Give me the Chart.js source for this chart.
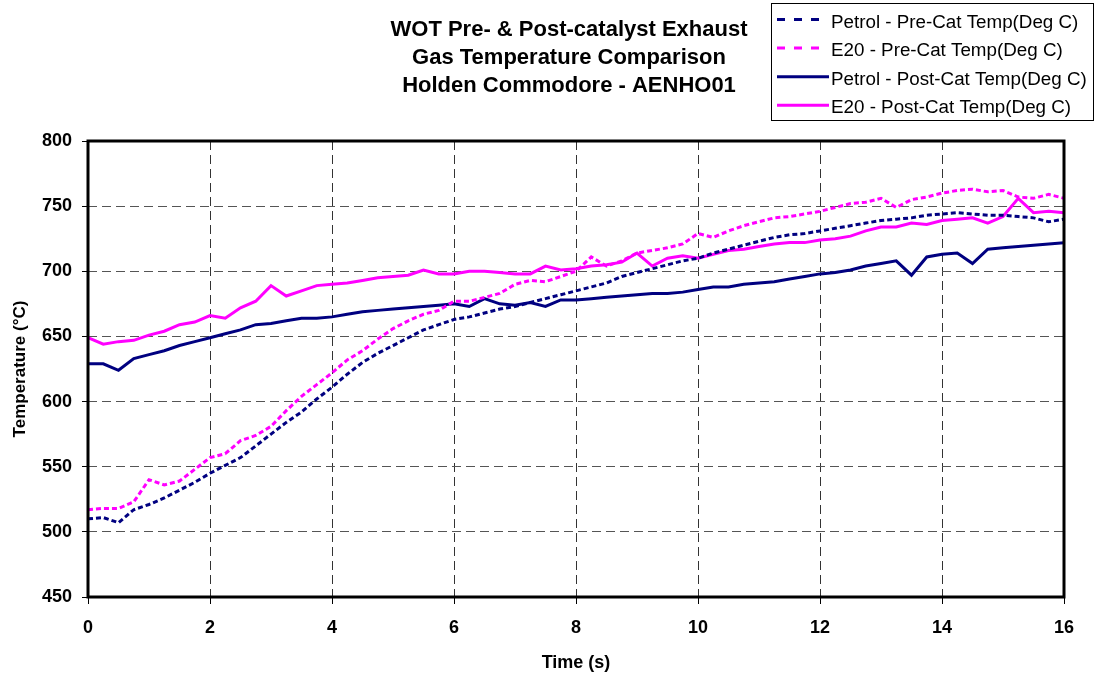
<!DOCTYPE html>
<html>
<head>
<meta charset="utf-8">
<script src="https://cdn.jsdelivr.net/npm/chart.js@4.4.0/dist/chart.umd.min.js"></script>
<style>
  body { margin: 0; background: #fff; }
  #wrap { width: 1099px; height: 678px; }
</style>
</head>
<body>
<div id="wrap"><canvas id="tempChart" width="1099" height="678"></canvas></div>
<script>
const titleLines = ['WOT Pre- & Post-catalyst Exhaust', 'Gas Temperature Comparison', 'Holden Commodore - AENHO01'];
const seriesNames = ['Petrol - Pre-Cat Temp(Deg C)', 'E20 - Pre-Cat Temp(Deg C)', 'Petrol - Post-Cat Temp(Deg C)', 'E20 - Post-Cat Temp(Deg C)'];
const xTicks = [0, 2, 4, 6, 8, 10, 12, 14, 16];
const yTicks = [450, 500, 550, 600, 650, 700, 750, 800];

const timeS = [0, 0.25, 0.5, 0.75, 1, 1.25, 1.5, 1.75, 2, 2.25,
  2.5, 2.75, 3, 3.25, 3.5, 3.75, 4, 4.25, 4.5, 4.75,
  5, 5.25, 5.5, 5.75, 6, 6.25, 6.5, 6.75, 7, 7.25,
  7.5, 7.75, 8, 8.25, 8.5, 8.75, 9, 9.25, 9.5, 9.75,
  10, 10.25, 10.5, 10.75, 11, 11.25, 11.5, 11.75, 12, 12.25,
  12.5, 12.75, 13, 13.25, 13.5, 13.75, 14, 14.25, 14.5, 14.75,
  15, 15.25, 15.5, 15.75, 16];

const petrolPre = [510, 511, 507, 517, 521, 526, 532, 538, 545, 551,
  557, 566, 575, 584, 592, 602, 611, 621, 630, 637,
  643, 649, 655, 659, 663, 665, 668, 671, 673, 676,
  679, 682, 685, 688, 691, 696, 699, 702, 705, 708,
  710, 714, 717, 720, 723, 726, 728, 729, 731, 733,
  735, 737, 739, 740, 741, 743, 744, 745, 744, 743,
  743, 742, 741, 738, 740];

const e20Pre = [517, 518, 518, 523, 540, 536, 539, 548, 557, 560,
  570, 574, 581, 593, 604, 613, 622, 632, 639, 648,
  656, 662, 667, 670, 677, 677, 680, 683, 690, 693,
  692, 696, 700, 711, 704, 708, 714, 716, 718, 721,
  729, 726, 731, 735, 738, 741, 742, 744, 746, 749,
  752, 753, 756, 749, 755, 757, 760, 762, 763, 761,
  762, 757, 756, 759, 756];

const petrolPost = [629, 629, 624, 633, 636, 639, 643, 646, 649, 652,
  655, 659, 660, 662, 664, 664, 665, 667, 669, 670,
  671, 672, 673, 674, 675, 673, 679, 675, 674, 676,
  673, 678, 678, 679, 680, 681, 682, 683, 683, 684,
  686, 688, 688, 690, 691, 692, 694, 696, 698, 699,
  701, 704, 706, 708, 697, 711, 713, 714, 706, 717,
  718, 719, 720, 721, 722];

const e20Post = [649, 644, 646, 647, 651, 654, 659, 661, 666, 664,
  672, 677, 689, 681, 685, 689, 690, 691, 693, 695,
  696, 697, 701, 698, 698, 700, 700, 699, 698, 698,
  704, 701, 702, 704, 705, 707, 714, 704, 710, 712,
  710, 713, 716, 717, 719, 721, 722, 722, 724, 725,
  727, 731, 734, 734, 737, 736, 739, 740, 741, 737,
  742, 756, 745, 746, 745];

const NAVY = '#000080';
const PINK = '#ff00ff';
const FONT = '"Liberation Sans", Arial, sans-serif';

function pts(vals) {
  return vals.map((v, i) => ({ x: timeS[i], y: v }));
}

const overlay = {
  id: 'overlay',
  afterDraw(chart) {
    const { ctx, chartArea: a } = chart;
    ctx.save();
    // frame round the plot
    ctx.strokeStyle = '#000';
    ctx.lineWidth = 3;
    ctx.strokeRect(a.left, a.top, a.right - a.left, a.bottom - a.top);

    // title
    ctx.fillStyle = '#000';
    ctx.font = 'bold 22px ' + FONT;
    ctx.textAlign = 'center';
    ctx.textBaseline = 'alphabetic';
    titleLines.forEach((s, i) => ctx.fillText(s, 569, 36 + i * 27.8));

    // legend
    ctx.lineWidth = 1;
    ctx.strokeRect(771.5, 3.5, 322, 117);
    ctx.font = '18.8px ' + FONT;
    ctx.textAlign = 'left';
    chart.data.datasets.forEach((ds, i) => {
      const base = 27.5 + i * 28.6;
      const ly = base - 8;
      const dotted = ds.borderDash && ds.borderDash.length;
      ctx.strokeStyle = ds.borderColor;
      ctx.lineWidth = 3;
      ctx.setLineDash(dotted ? [8, 9] : []);
      ctx.beginPath();
      ctx.moveTo(777, ly);
      ctx.lineTo(dotted ? 822 : 829, ly);
      ctx.stroke();
      ctx.setLineDash([]);
      ctx.fillText(ds.label, 831, base);
    });
    ctx.restore();
  }
};

Chart.defaults.font.family = FONT;
Chart.defaults.color = '#000';

const ctx = document.getElementById('tempChart').getContext('2d');
const tempChart = new Chart(ctx, {
  type: 'line',
  data: {
    datasets: [
      { label: seriesNames[0], data: pts(petrolPre), borderColor: NAVY, borderWidth: 3, borderDash: [5, 3] },
      { label: seriesNames[1], data: pts(e20Pre), borderColor: PINK, borderWidth: 3, borderDash: [5, 3] },
      { label: seriesNames[2], data: pts(petrolPost), borderColor: NAVY, borderWidth: 3 },
      { label: seriesNames[3], data: pts(e20Post), borderColor: PINK, borderWidth: 3 }
    ]
  },
  options: {
    responsive: false,
    animation: false,
    devicePixelRatio: 1,
    layout: { padding: { left: 0, right: 35, top: 141, bottom: 0 } },
    elements: { point: { radius: 0 }, line: { tension: 0 } },
    plugins: { legend: { display: false }, title: { display: false }, tooltip: { enabled: false } },
    scales: {
      x: {
        type: 'linear',
        min: 0,
        max: 16,
        afterBuildTicks: s => { s.ticks = xTicks.map(v => ({ value: v })); },
        afterFit: s => { s.height = 81; },
        ticks: { font: { size: 18, weight: 'bold' }, padding: 13, maxRotation: 0 },
        grid: { color: '#333', lineWidth: 1, tickLength: 7, tickColor: '#000' },
        border: { display: false, dash: [9, 5] },
        title: { display: true, text: 'Time (s)', font: { size: 18, weight: 'bold' }, padding: { top: 0, bottom: 4 } }
      },
      y: {
        min: 450,
        max: 800,
        afterBuildTicks: s => { s.ticks = yTicks.map(v => ({ value: v })); },
        afterFit: s => { s.width = 88; },
        ticks: { font: { size: 18, weight: 'bold' }, padding: 10 },
        grid: { color: '#555', lineWidth: 1, tickLength: 6, tickColor: '#000' },
        border: { display: false, dash: [9, 5] },
        title: { display: true, text: 'Temperature (°C)', font: { size: 17, weight: 'bold' }, padding: { top: 10, bottom: 0 } }
      }
    }
  },
  plugins: [overlay]
});
</script>
</body>
</html>
